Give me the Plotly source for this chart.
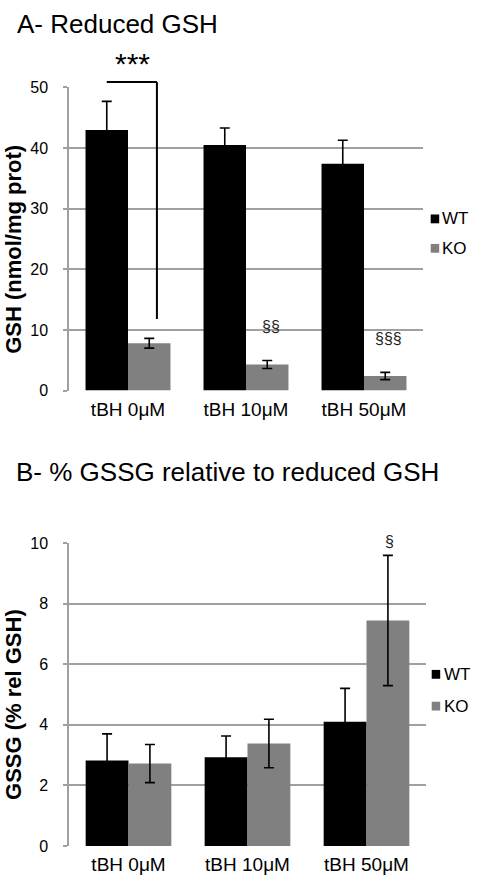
import plotly.graph_objects as go

# ---------------- data ----------------
categories = ["tBH 0μM", "tBH 10μM", "tBH 50μM"]
series_names = ["WT", "KO"]
series_colors = ["#000000", "#808080"]

gsh_wt = [43.0, 40.5, 37.4]
gsh_wt_err = [4.7, 2.8, 3.9]
gsh_ko = [7.8, 4.3, 2.4]
gsh_ko_err = [0.8, 0.65, 0.6]

gssg_wt = [2.82, 2.93, 4.10]
gssg_wt_err = [0.88, 0.70, 1.10]
gssg_ko = [2.72, 3.38, 7.44]
gssg_ko_err = [0.63, 0.80, 2.15]

gsh_ticks = [0, 10, 20, 30, 40, 50]
gssg_ticks = [0, 2, 4, 6, 8, 10]
GSH_MAX = 50
GSSG_MAX = 10

# ---------------- geometry helpers ----------------
W, H = 480, 891
def px(x):
    return x / W
def py(y):
    return 1 - y / H

GRID = "#a0a0a0"
FONT = "Liberation Sans, Arial, sans-serif"

fig = go.Figure()

def add_bars(x_vals, ys, errs, name, color, xa, ya):
    fig.add_trace(go.Bar(
        x=x_vals, y=ys, name=name, marker=dict(color=color, line=dict(width=0)),
        error_y=dict(type="data", array=errs, visible=True, color="#000000",
                     thickness=1.6, width=5),
        xaxis=xa, yaxis=ya, showlegend=False,
    ))

add_bars(categories, gsh_wt, gsh_wt_err, series_names[0], series_colors[0], "x", "y")
add_bars(categories, gsh_ko, gsh_ko_err, series_names[1], series_colors[1], "x", "y")
add_bars(categories, gssg_wt, gssg_wt_err, series_names[0], series_colors[0], "x2", "y2")
add_bars(categories, gssg_ko, gssg_ko_err, series_names[1], series_colors[1], "x2", "y2")

xaxis_common = dict(
    type="category", showgrid=False, showline=False, zeroline=False,
    ticks="", tickfont=dict(family=FONT, size=19, color="#000000"),
    ticklabelstandoff=5, fixedrange=True,
)
yaxis_common = dict(
    showgrid=True, gridcolor=GRID, gridwidth=1.5,
    showline=True, linecolor=GRID, linewidth=1.5,
    zeroline=False, ticks="outside", ticklen=4, tickcolor=GRID, tickwidth=1.5,
    tickfont=dict(family=FONT, size=16, color="#000000"),
    ticklabelstandoff=12, fixedrange=True,
)

fig.update_layout(
    width=W, height=H,
    margin=dict(l=0, r=0, t=0, b=0),
    paper_bgcolor="white", plot_bgcolor="white",
    barmode="group", bargap=0.28, bargroupgap=0,
    font=dict(family=FONT, color="#000000"),
    xaxis=dict(domain=[px(69), px(423)], anchor="y", **xaxis_common),
    yaxis=dict(domain=[py(390), py(81)], anchor="x", range=[0, GSH_MAX],
               tickvals=gsh_ticks, **yaxis_common),
    xaxis2=dict(domain=[px(69), px(426)], anchor="y2", **xaxis_common),
    yaxis2=dict(domain=[py(854.3), py(545.3)], anchor="x2", range=[0, GSSG_MAX],
                tickvals=gssg_ticks, **yaxis_common),
)

annotations = []
# titles
annotations.append(dict(text="A- Reduced GSH", x=px(15), y=py(16), xref="paper", yref="paper",
                        xanchor="left", yanchor="middle", showarrow=False,
                        font=dict(family=FONT, size=26, color="#000000")))
annotations.append(dict(text="B- % GSSG relative to reduced GSH", x=px(14), y=py(473),
                        xref="paper", yref="paper", xanchor="left", yanchor="middle",
                        showarrow=False, font=dict(family=FONT, size=26, color="#000000")))
# y-axis titles
annotations.append(dict(text="<b>GSH (nmol/mg prot)</b>", x=px(13.5), y=py(246), xref="paper",
                        yref="paper", textangle=-90, xanchor="center", yanchor="middle",
                        showarrow=False, font=dict(family=FONT, size=22, color="#000000")))
annotations.append(dict(text="<b>GSSG (% rel GSH)</b>", x=px(13.5), y=py(710), xref="paper",
                        yref="paper", textangle=-90, xanchor="center", yanchor="middle",
                        showarrow=False, font=dict(family=FONT, size=22, color="#000000")))
# significance marks (y given in data units, placed relative to the axis domain)
annotations.append(dict(text="***", x=0.04, y=53.9 / GSH_MAX, xref="x", yref="y domain",
                        showarrow=False, xanchor="center", yanchor="middle",
                        font=dict(family=FONT, size=30, color="#000000")))
annotations.append(dict(text="§§", x=1.21, y=8.9 / GSH_MAX, xref="x", yref="y domain",
                        showarrow=False, font=dict(family=FONT, size=16, color="#222222")))
annotations.append(dict(text="§§§", x=2.21, y=6.8 / GSH_MAX, xref="x", yref="y domain",
                        showarrow=False, font=dict(family=FONT, size=16, color="#222222")))
annotations.append(dict(text="§", x=2.19, y=10.39 / GSSG_MAX, xref="x2", yref="y2 domain",
                        showarrow=False, font=dict(family=FONT, size=16, color="#222222")))

# manual legends
shapes = []
legend_rows = [
    (215, 245, 430.7, 440),
    (679.3, 711.7, 431.7, 441.5),
]
for (y_wt, y_ko, sq_x, tx_x) in legend_rows:
    for yc, name, color in [(y_wt, series_names[0], series_colors[0]),
                            (y_ko, series_names[1], series_colors[1])]:
        shapes.append(dict(type="rect", xref="paper", yref="paper",
                           x0=px(sq_x), x1=px(sq_x + 8.5), y0=py(yc + 4.5), y1=py(yc - 4.5),
                           fillcolor=color, line=dict(width=0)))
        annotations.append(dict(text=name, x=px(tx_x), y=py(yc), xref="paper", yref="paper",
                                xanchor="left", yanchor="middle", showarrow=False,
                                font=dict(family=FONT, size=17, color="#000000")))

# significance bracket (top chart)
bracket_top = 50.9 / GSH_MAX
bracket_bottom = 11.8 / GSH_MAX
shapes.append(dict(type="line", xref="x", yref="y domain", x0=-0.18, x1=0.245,
                   y0=bracket_top, y1=bracket_top, line=dict(color="#000000", width=2)))
shapes.append(dict(type="line", xref="x", yref="y domain", x0=0.245, x1=0.245,
                   y0=bracket_top, y1=bracket_bottom, line=dict(color="#000000", width=2)))

fig.update_layout(annotations=annotations, shapes=shapes)

fig.write_html(
    "out.html",
    config={"displayModeBar": False},
    post_script="document.body.style.margin='0';document.body.style.overflow='hidden';",
)
